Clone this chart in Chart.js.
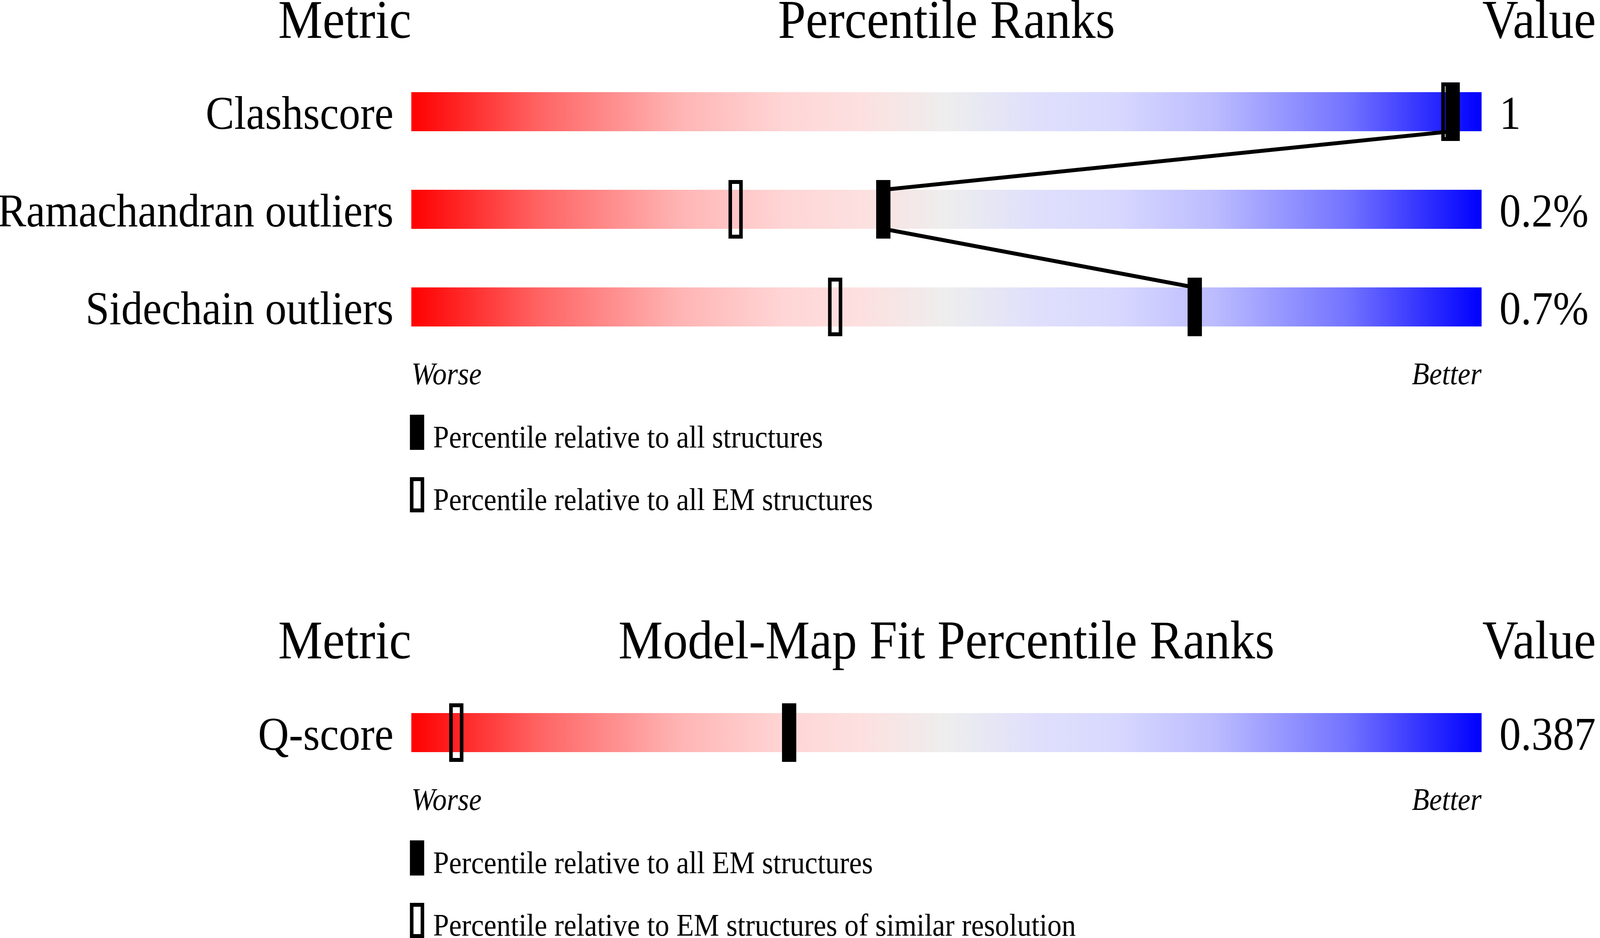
<!DOCTYPE html>
<html>
<head>
<meta charset="utf-8">
<script src="https://cdn.jsdelivr.net/npm/chart.js"></script>
<style>
    html, body { margin: 0; padding: 0; background: #fff; overflow: hidden; }
    #wrap { position: relative; width: 100vw; height: 100vh; overflow: hidden; }
    canvas { position: absolute; left: 0; }
</style>
</head>
<body>
<div id="wrap">
    <canvas id="quality" width="4485" height="1340"></canvas>
    <canvas id="fit" width="4485" height="1062"></canvas>
</div>
<script>
/* ---------- data ---------- */
const metrics = ["Clashscore", "Ramachandran outliers", "Sidechain outliers"];
const metricValues = ["1", "0.2%", "0.7%"];
const pctAll = [97.3, 44.1, 73.2];
const pctAllEM = [96.9, 30.3, 39.6];

const fitMetrics = ["Q-score"];
const fitValues = ["0.387"];
const fitPctEM = [35.3];
const fitPctRes = [4.2];

const rankRange = [0, 100];
const rankTicks = ["Worse", "Better"];

const keysQuality = ["Percentile relative to all structures", "Percentile relative to all EM structures"];
const keysFit = ["Percentile relative to all EM structures", "Percentile relative to EM structures of similar resolution"];

/* ---------- style ---------- */
// all sizes are in picture pixels (4485 x 2402); css stretches the canvases to the window
const PAGE_W = 4485;
const PAGE_H = 2402;
const SERIF = "'Liberation Serif', 'Times New Roman', serif";
const PLOT_W = 3000;   // width of a rank bar
const MARK_W = 40;     // width of a marker

const gradStops = [
    [0.00, "rgb(255,0,0)"],
    [0.12, "rgb(255,100,100)"],
    [0.25, "rgb(255,180,180)"],
    [0.35, "rgb(255,214,214)"],
    [0.42, "rgb(253,224,224)"],
    [0.50, "rgb(238,238,238)"],
    [0.58, "rgb(224,224,252)"],
    [0.66, "rgb(216,216,255)"],
    [0.75, "rgb(188,188,255)"],
    [0.875, "rgb(115,115,255)"],
    [1.00, "rgb(0,0,255)"]
];

function rankGradient(context) {
    const chart = context.chart;
    if (!chart.chartArea) return null;
    const x = chart.scales.x;
    const g = chart.ctx.createLinearGradient(
        x.getPixelForValue(rankRange[0]), 0,
        x.getPixelForValue(rankRange[1]), 0
    );
    gradStops.forEach(([o, c]) => g.addColorStop(o, c));
    return g;
}

/* ---------- plugins ---------- */
// headers over the bars + the marker key underneath
const panelPlugin = {
    id: "panel",
    afterDraw(chart, args, opts) {
        const { ctx } = chart;
        const { left, right, bottom } = chart.chartArea;

        ctx.save();
        ctx.fillStyle = "#000";
        ctx.strokeStyle = "#000";
        ctx.textBaseline = "alphabetic";

        ctx.font = `140px ${SERIF}`;
        ctx.textAlign = "right";
        ctx.fillText("Metric", left, opts.headBase);
        ctx.textAlign = "center";
        ctx.fillText(opts.title, (left + right) / 2, opts.headBase);
        ctx.textAlign = "left";
        ctx.fillText("Value", right + 2, opts.headBase);

        ctx.font = `80px ${SERIF}`;
        ctx.lineWidth = 10;
        opts.keys.forEach((text, i) => {
            const top = bottom + 151 + i * 160;
            const x0 = left - 4;
            if (i === 0) {
                ctx.fillRect(x0, top, 40, 90);
            } else {
                ctx.strokeRect(x0 + 5, top + 5, 30, 80);
            }
            ctx.fillText(text, left + 61, top + 84);
        });
        ctx.restore();
    }
};

// joins the solid markers row to row, bar bottom -> next bar top
const linkPlugin = {
    id: "link",
    afterDatasetsDraw(chart) {
        const bars = chart.getDatasetMeta(0).data;
        const marks = chart.getDatasetMeta(2).data;
        const mid = el => (el.x + el.base) / 2;
        const ctx = chart.ctx;

        ctx.save();
        ctx.strokeStyle = "#000";
        ctx.lineWidth = 10;
        ctx.beginPath();
        for (let i = 0; i < marks.length - 1; i++) {
            ctx.moveTo(mid(marks[i]), bars[i].y + bars[i].height / 2);
            ctx.lineTo(mid(marks[i + 1]), bars[i + 1].y - bars[i + 1].height / 2);
        }
        ctx.stroke();
        ctx.restore();
    }
};

/* ---------- chart ---------- */
function buildPanel(id, cfg) {
    const canvas = document.getElementById(id);
    // inline style so Chart.js keeps it; the bitmap stays in picture pixels
    canvas.style.top = (cfg.top / PAGE_H * 100) + "%";
    canvas.style.width = "100%";
    canvas.style.height = (canvas.height / PAGE_H * 100) + "%";

    const labels = cfg.labels;
    const half = MARK_W / 2 / PLOT_W * (rankRange[1] - rankRange[0]);

    const datasets = [
        {
            data: labels.map(() => rankRange),
            backgroundColor: rankGradient,
            barThickness: 100,
            borderWidth: 0,
            inflateAmount: 0,
            grouped: false,
            order: 3
        },
        {
            data: cfg.open.map(p => [p - half, p + half]),
            backgroundColor: "rgba(0,0,0,0)",
            borderColor: "#000",
            borderWidth: 10,
            borderSkipped: false,
            barThickness: 150,
            inflateAmount: 0,
            grouped: false,
            order: 2
        },
        {
            data: cfg.solid.map(p => [p - half, p + half]),
            backgroundColor: "#000",
            borderWidth: 0,
            barThickness: 150,
            inflateAmount: 0,
            grouped: false,
            order: 1
        }
    ];

    const plugins = [panelPlugin];
    if (cfg.link) plugins.push(linkPlugin);

    const tickFont = { family: SERIF, size: 120 };

    return new Chart(canvas, {
        type: "bar",
        data: { labels, datasets },
        plugins,
        options: {
            indexAxis: "y",
            responsive: false,
            animation: false,
            devicePixelRatio: 1,
            events: [],
            layout: { padding: { top: cfg.padTop, bottom: cfg.padBottom, left: 0, right: 0 } },
            scales: {
                x: {
                    type: "linear",
                    min: rankRange[0],
                    max: rankRange[1],
                    grid: { display: false, drawTicks: false },
                    border: { display: false },
                    afterBuildTicks: sc => { sc.ticks = rankRange.map(v => ({ value: v })); },
                    afterFit: sc => { sc.height = 100; },
                    ticks: {
                        align: "inner",
                        padding: 4,
                        color: "#000",
                        font: { family: SERIF, size: 80, style: "italic" },
                        callback: v => rankTicks[rankRange.indexOf(v)]
                    }
                },
                y: {
                    type: "category",
                    position: "left",
                    offset: true,
                    grid: { display: false, drawTicks: false },
                    border: { display: false },
                    afterFit: sc => { sc.width = 1153; },
                    ticks: { padding: 50, labelOffset: 12, color: "#000", font: tickFont }
                },
                y2: {
                    type: "category",
                    position: "right",
                    labels: cfg.values,
                    offset: true,
                    grid: { display: false, drawTicks: false },
                    border: { display: false },
                    afterFit: sc => { sc.width = PAGE_W - 4153; },
                    ticks: { padding: 50, labelOffset: 12, color: "#000", font: tickFont }
                }
            },
            plugins: {
                legend: { display: false },
                tooltip: { enabled: false },
                panel: { title: cfg.title, headBase: cfg.headBase, keys: cfg.keys }
            }
        }
    });
}

buildPanel("quality", {
    labels: metrics,
    values: metricValues,
    solid: pctAll,
    open: pctAllEM,
    title: "Percentile Ranks",
    keys: keysQuality,
    top: 0,
    headBase: 97,
    padTop: 161,
    padBottom: 329,
    link: true
});

buildPanel("fit", {
    labels: fitMetrics,
    values: fitValues,
    solid: fitPctEM,
    open: fitPctRes,
    title: "Model-Map Fit Percentile Ranks",
    keys: keysFit,
    top: 1340,
    headBase: 346,
    padTop: 411,
    padBottom: 301,
    link: false
});
</script>
</body>
</html>
